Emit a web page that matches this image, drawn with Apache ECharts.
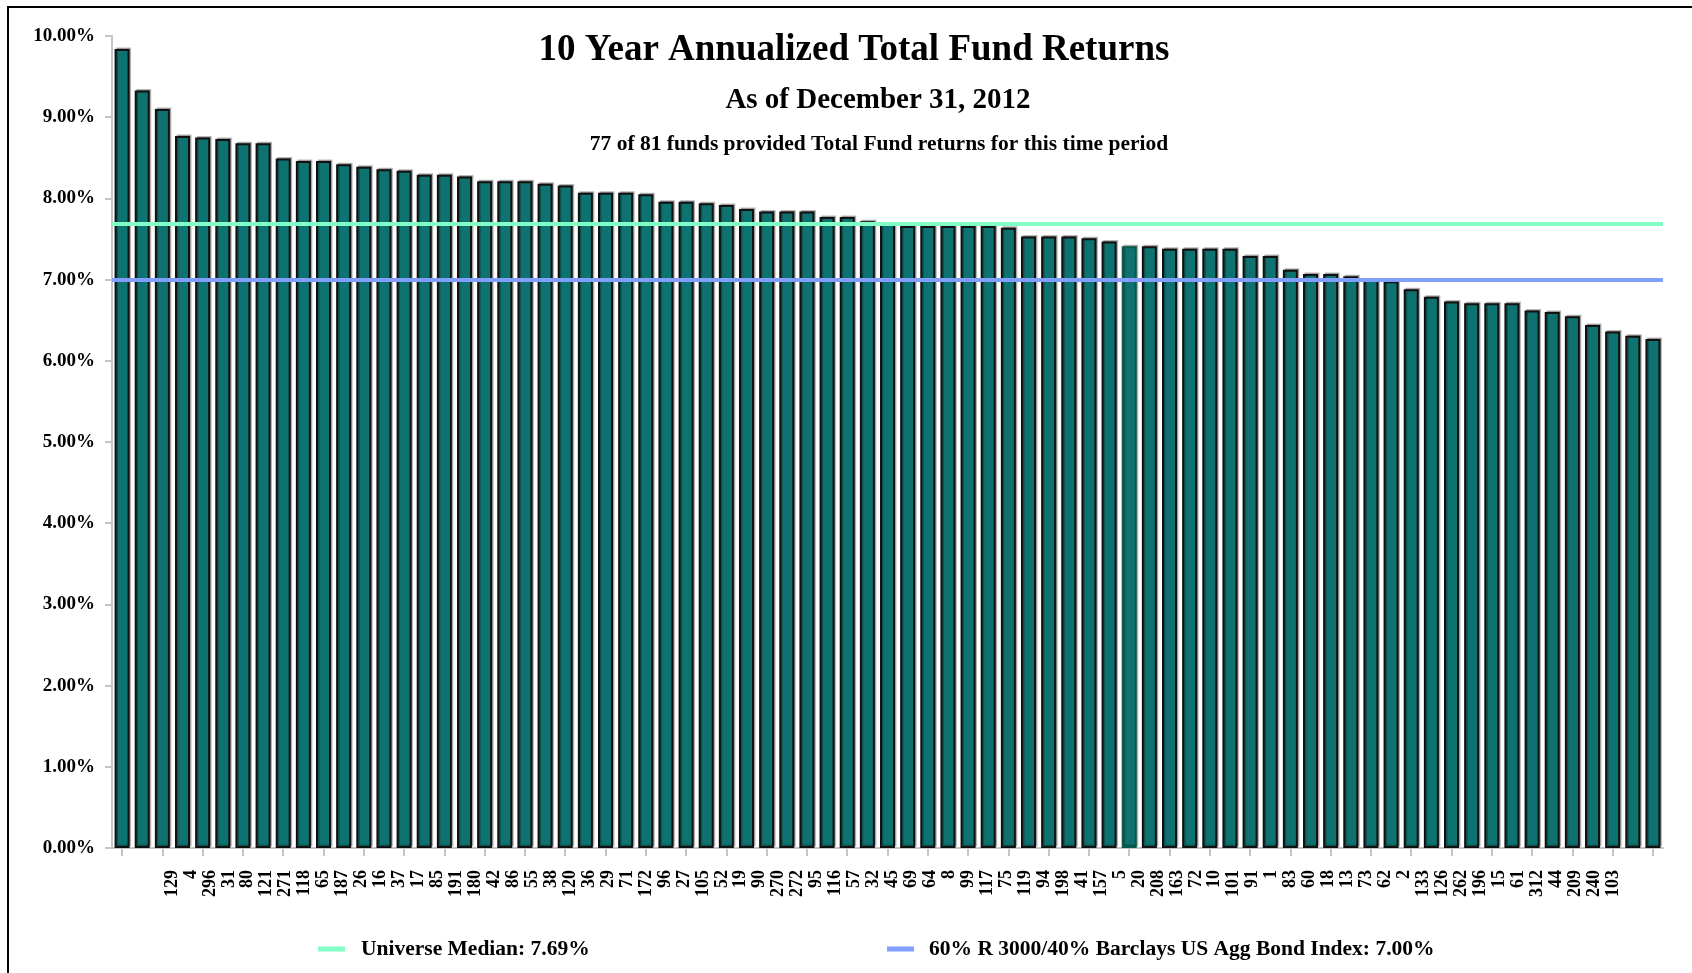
<!DOCTYPE html>
<html>
<head>
<meta charset="utf-8">
<script src="https://cdn.jsdelivr.net/npm/echarts@6/dist/echarts.min.js"></script>
<style>
  html, body { margin: 0; padding: 0; background: #fff; }
  #chart { width: 1692px; height: 973px; }
</style>
</head>
<body>
<div id="chart"></div>
<script>
// fund ids, in bar order (highest return first)
const fundIds = [
  '129', '4', '296', '31', '80', '121', '271', '118', '65', '187',
  '26', '16', '37', '17', '85', '191', '180', '42', '86', '55',
  '38', '120', '36', '29', '71', '172', '96', '27', '105', '52',
  '19', '90', '270', '272', '95', '116', '57', '32', '45', '69',
  '64', '8', '99', '117', '75', '119', '94', '198', '41', '157',
  '5', '20', '208', '163', '72', '10', '101', '91', '1', '83',
  '60', '18', '13', '73', '62', '2', '133', '126', '262', '196',
  '15', '61', '312', '44', '209', '240', '103'
];

// 10 year annualized returns, %
const returns = [
  9.84, 9.33, 9.10, 8.77, 8.75, 8.73, 8.68, 8.68, 8.49, 8.46,
  8.46, 8.42, 8.39, 8.36, 8.34, 8.29, 8.29, 8.27, 8.21, 8.21,
  8.21, 8.18, 8.16, 8.07, 8.07, 8.07, 8.05, 7.96, 7.96, 7.94,
  7.92, 7.87, 7.84, 7.84, 7.84, 7.77, 7.77, 7.72, 7.69, 7.66,
  7.66, 7.66, 7.66, 7.66, 7.64, 7.53, 7.53, 7.53, 7.51, 7.47,
  7.41, 7.41, 7.38, 7.38, 7.38, 7.38, 7.29, 7.29, 7.12, 7.07,
  7.07, 7.04, 7.00, 6.98, 6.88, 6.79, 6.73, 6.71, 6.71, 6.71,
  6.62, 6.60, 6.55, 6.44, 6.36, 6.31, 6.27
];

const highlightFund = '5';
const medianValue = 7.69;
const benchmarkValue = 7.00;
const medianName = 'Universe Median: ' + medianValue.toFixed(2) + '%';
const benchmarkName = '60% R 3000/40% Barclays US Agg Bond Index: ' + benchmarkValue.toFixed(2) + '%';

const serif = '"Liberation Serif", "Times New Roman", serif';
const axisGray = '#c3c7cb';

const barData = returns.map((v, i) => {
  if (fundIds[i] !== highlightFund) return v;
  return {
    value: v,
    itemStyle: { color: '#0e7370', borderColor: '#0a5a48', borderWidth: 2 }
  };
});

const chart = echarts.init(document.getElementById('chart'));

const option = {
  animation: false,
  backgroundColor: '#fff',
  title: [
    {
      text: '10 Year Annualized Total Fund Returns',
      left: 849, top: 27, textAlign: 'center',
      textStyle: { fontFamily: serif, fontWeight: 'bold', fontSize: 37, color: '#000' }
    },
    {
      text: 'As of December 31, 2012',
      left: 873, top: 81, textAlign: 'center',
      textStyle: { fontFamily: serif, fontWeight: 'bold', fontSize: 29, color: '#000' }
    },
    {
      text: '77 of 81 funds provided Total Fund returns for this time period',
      left: 874, top: 128, textAlign: 'center',
      textStyle: { fontFamily: serif, fontWeight: 'bold', fontSize: 21.5, color: '#000' }
    }
  ],
  legend: [
    {
      data: [medianName],
      left: 318, top: 938, padding: 0,
      icon: 'rect', itemWidth: 27, itemHeight: 5, itemGap: 0,
      textStyle: { fontFamily: serif, fontWeight: 'bold', fontSize: 21.5, color: '#000', padding: [0, 0, 0, 11] }
    },
    {
      data: [benchmarkName],
      left: 887, top: 938, padding: 0,
      icon: 'rect', itemWidth: 27, itemHeight: 5, itemGap: 0,
      textStyle: { fontFamily: serif, fontWeight: 'bold', fontSize: 21.5, color: '#000', padding: [0, 0, 0, 10] }
    }
  ],
  graphic: [
    {
      type: 'rect',
      shape: { x: 8, y: 7, width: 1720, height: 1000 },
      style: { fill: 'none', stroke: '#000', lineWidth: 2 },
      silent: true
    }
  ],
  grid: [
    { left: 112, right: 29, top: 36, bottom: 125, outerBoundsMode: 'none' },
    // label row: the id labels run at a slightly tighter pitch than the bars
    { left: 162.5, right: 69.5, top: 36, bottom: 125, outerBoundsMode: 'none' }
  ],
  xAxis: [
    {
      type: 'category',
      gridIndex: 0,
      data: fundIds,
      axisLine: { show: true, lineStyle: { color: axisGray, width: 2 } },
      axisTick: { show: true, alignWithLabel: true, length: 8, lineStyle: { color: axisGray, width: 2 } },
      axisLabel: { show: false },
      splitLine: { show: false }
    },
    {
      type: 'category',
      gridIndex: 1,
      data: fundIds,
      axisLine: { show: false },
      axisTick: { show: false },
      axisLabel: {
        show: true, interval: 0, rotate: 90, margin: 22,
        fontFamily: serif, fontWeight: 'bold', fontSize: 18, color: '#000'
      },
      splitLine: { show: false }
    }
  ],
  yAxis: [
    {
      type: 'value',
      gridIndex: 0,
      min: 0, max: 10, interval: 1,
      axisLine: { show: true, lineStyle: { color: axisGray, width: 2 } },
      axisTick: { show: true, length: 7, lineStyle: { color: axisGray, width: 2 } },
      axisLabel: {
        margin: 17,
        formatter: (v) => v.toFixed(2) + '%',
        fontFamily: serif, fontWeight: 'bold', fontSize: 19, color: '#000'
      },
      splitLine: { show: false }
    },
    { type: 'value', gridIndex: 1, min: 0, max: 1, show: false }
  ],
  series: [
    {
      name: 'Total Fund',
      type: 'bar',
      xAxisIndex: 0, yAxisIndex: 0,
      data: barData,
      barWidth: 15,
      itemStyle: {
        color: '#0e7370',
        borderColor: '#111',
        borderWidth: 2,
        shadowColor: 'rgba(0,0,0,0.28)',
        shadowBlur: 0,
        shadowOffsetX: 1.5,
        shadowOffsetY: -1.5
      }
    },
    {
      name: medianName,
      type: 'line',
      xAxisIndex: 0, yAxisIndex: 0,
      data: [],
      color: '#82ffc6',
      markLine: {
        silent: true, symbol: 'none', z: 5,
        label: { show: false },
        lineStyle: { color: '#82ffc6', width: 4, type: 'solid' },
        data: [{ yAxis: medianValue }]
      }
    },
    {
      name: benchmarkName,
      type: 'line',
      xAxisIndex: 0, yAxisIndex: 0,
      data: [],
      color: '#809fff',
      markLine: {
        silent: true, symbol: 'none', z: 5,
        label: { show: false },
        lineStyle: { color: '#809fff', width: 4, type: 'solid' },
        data: [{ yAxis: benchmarkValue }]
      }
    }
  ]
};

chart.setOption(option);
</script>
</body>
</html>
